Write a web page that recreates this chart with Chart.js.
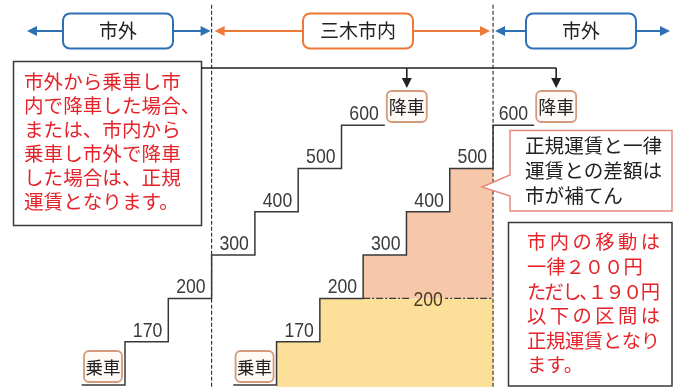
<!DOCTYPE html>
<html>
<head>
<meta charset="utf-8">
<script src="https://cdn.jsdelivr.net/npm/chart.js@4.4.0/dist/chart.umd.min.js"></script>
<style>
  html, body { margin: 0; padding: 0; background: #fff; }
  #wrap { width: 673px; height: 387px; }
</style>
</head>
<body>
<div id="wrap"><canvas id="fareChart" width="673" height="387"></canvas></div>
<script>
// fare on each step (level 0 = 乗車)
const fareLabels = [170, 200, 300, 400, 500, 600];
const stepLevels = [0, 1, 2, 3, 4, 5, 6, 6];
// route position (in stops) where every step starts, last one = end of the 600 step
const outsideStops = [-1, 0, 1, 2, 3, 4, 5, 6];
const insideStops = [2.5, 3.5, 4.5, 5.5, 6.5, 7.5, 8.5, 9.45];
const cityBorders = [2, 8.5];
const flatFareLevel = 2;
const flatFareLabel = '200';
const regionLabels = ['市外', '三木市内', '市外'];
const boardLabel = '乗車';
const alightLabel = '降車';
const noteLeft = ['市外から乗車し市', '内で降車した場合、', 'または、市内から', '乗車し市外で降車', 'した場合は、正規', '運賃となります。'];
const noteSubsidy = ['正規運賃と一律', '運賃との差額は', '市が補てん'];
const noteFlat = ['市内の移動は', '一律２００円', 'ただし､１９０円', '以下の区間は', '正規運賃となり', 'ます。'];

const jpFont = '"Noto Sans CJK JP", "Noto Sans CJK SC", sans-serif';
const numFont = '"Liberation Sans", Arial, sans-serif';
const blue = '#2f6fb5', orange = '#ec7a36', red = '#e5232b';
const yellow = '#fce09a', salmon = '#f6c7a8';
const stairColor = '#383838';

function toPoints(stops) {
  return stops.map((x, i) => ({ x: x, y: stepLevels[i] }));
}
const outside = toPoints(outsideStops);
const inside = toPoints(insideStops);
// flat 200 part under the in-city staircase, and the part above it paid by the city
const flatPts = inside.slice(1, 7).map(p => ({ x: p.x, y: Math.min(p.y, flatFareLevel) }));
const subsidyPts = inside.filter(p => p.y > flatFareLevel && p.x <= cityBorders[1]);
const refPts = [{ x: subsidyPts[0].x, y: flatFareLevel }, { x: cityBorders[1], y: flatFareLevel }];

function roundBox(ctx, x, y, w, h, r, stroke, fill, lw) {
  ctx.beginPath();
  ctx.roundRect(x, y, w, h, r);
  ctx.fillStyle = fill;
  ctx.fill();
  ctx.lineWidth = lw;
  ctx.strokeStyle = stroke;
  ctx.stroke();
}
function arrowHead(ctx, tx, ty, dx, dy, len, half, color) {
  const bx = tx - dx * len, by = ty - dy * len;
  ctx.beginPath();
  ctx.moveTo(tx, ty);
  ctx.lineTo(bx - dy * half, by + dx * half);
  ctx.lineTo(bx + dy * half, by - dx * half);
  ctx.closePath();
  ctx.fillStyle = color;
  ctx.fill();
}
function spreadText(ctx, str, x, y, width) {
  const chars = [...str];
  const ws = chars.map(c => ctx.measureText(c).width);
  const total = ws.reduce((a, b) => a + b, 0);
  const gap = chars.length > 1 ? (width - total) / (chars.length - 1) : 0;
  let cx = x;
  chars.forEach((c, i) => { ctx.fillText(c, cx, y); cx += ws[i] + gap; });
}
function narrowText(ctx, str, xRight, yBase) {
  ctx.save();
  ctx.translate(xRight, yBase);
  ctx.scale(0.84, 1);
  ctx.textAlign = 'right';
  ctx.textBaseline = 'alphabetic';
  ctx.fillText(str, 0, 0);
  ctx.restore();
}
function refLabelBox(chart) {
  const xs = chart.scales.x, ys = chart.scales.y;
  const cx = xs.getPixelForValue((refPts[0].x + refPts[1].x) / 2);
  const cy = ys.getPixelForValue(flatFareLevel);
  return { cx: cx, cy: cy, w: 34, h: 20 };
}

const diagramPlugin = {
  id: 'diagram',
  beforeDatasetDraw(chart, args) {
    if (args.meta.label !== 'flatRef') return;
    // leave a gap in the dash-dot line for its "200" label
    const ctx = chart.ctx, b = refLabelBox(chart);
    ctx.save();
    ctx.beginPath();
    ctx.rect(0, 0, chart.width, chart.height);
    ctx.rect(b.cx - b.w / 2, b.cy - b.h / 2, b.w, b.h);
    ctx.clip('evenodd');
  },
  afterDatasetDraw(chart, args) {
    if (args.meta.label === 'flatRef') chart.ctx.restore();
  },
  afterDatasetsDraw(chart) {
    const ctx = chart.ctx, xs = chart.scales.x, ys = chart.scales.y;
    ctx.save();

    // fare numbers over each step
    ctx.fillStyle = '#3a3a3a';
    ctx.font = '21px ' + numFont;
    [outsideStops, insideStops].forEach(stops => {
      fareLabels.forEach((f, i) => {
        narrowText(ctx, String(f), xs.getPixelForValue(stops[i + 2]) - 6, ys.getPixelForValue(stepLevels[i + 1]) - 5);
      });
    });
    const rb = refLabelBox(chart);
    ctx.save();
    ctx.translate(rb.cx, rb.cy + 8);
    ctx.scale(0.84, 1);
    ctx.textAlign = 'center';
    ctx.fillStyle = '#4a3a20';
    ctx.fillText(flatFareLabel, 0, 0);
    ctx.restore();

    // 乗車 / 降車 tags
    const tagCenters = [];
    ctx.textAlign = 'center';
    ctx.textBaseline = 'middle';
    [outsideStops, insideStops].forEach(stops => {
      const rx = xs.getPixelForValue(stops[1]) - 3;
      roundBox(ctx, rx - 38, 351, 38, 31, 5, '#d39a7c', '#fffaf6', 1.8);
      ctx.fillStyle = '#222';
      ctx.font = '17.5px ' + jpFont;
      ctx.fillText(boardLabel, rx - 19, 367);
      const lx = xs.getPixelForValue(stops[stops.length - 1]) + 2;
      roundBox(ctx, lx, 91, 40, 31, 5, '#d39a7c', '#fffaf6', 1.8);
      ctx.fillStyle = '#222';
      ctx.font = '18px ' + jpFont;
      ctx.fillText(alightLabel, lx + 20, 107);
      tagCenters.push(lx + 20);
    });

    // region headers with arrows
    const b1 = xs.getPixelForValue(cityBorders[0]), b2 = xs.getPixelForValue(cityBorders[1]);
    const regions = [
      { text: regionLabels[0], from: 27, to: b1 - 1, color: blue, cx: 118 },
      { text: regionLabels[1], from: b1 + 3, to: b2 - 3, color: orange, cx: 358 },
      { text: regionLabels[2], from: b2 + 2, to: 670, color: blue, cx: 581 }
    ];
    regions.forEach(r => {
      const ay = 31, bw = 110;
      ctx.strokeStyle = r.color;
      ctx.lineWidth = 2;
      ctx.beginPath();
      ctx.moveTo(r.from + 6, ay); ctx.lineTo(r.cx - bw / 2, ay);
      ctx.moveTo(r.cx + bw / 2, ay); ctx.lineTo(r.to - 6, ay);
      ctx.stroke();
      arrowHead(ctx, r.from, ay, -1, 0, 10, 5, r.color);
      arrowHead(ctx, r.to, ay, 1, 0, 10, 5, r.color);
      roundBox(ctx, r.cx - bw / 2, 13.5, bw, 35, 7, r.color, '#fff', 2);
      ctx.fillStyle = '#222';
      ctx.font = '19px ' + jpFont;
      ctx.fillText(r.text, r.cx, 31);
    });

    // left note
    ctx.beginPath();
    ctx.rect(13.5, 61.5, 188, 164);
    ctx.fillStyle = '#fff';
    ctx.fill();
    ctx.strokeStyle = '#3a3a3a';
    ctx.lineWidth = 1.5;
    ctx.stroke();
    ctx.textAlign = 'left';
    ctx.fillStyle = red;
    ctx.font = '19.6px ' + jpFont;
    noteLeft.forEach((t, i) => ctx.fillText(t, 24, 82 + i * 24));

    // connector to the 降車 tags
    ctx.strokeStyle = '#222';
    ctx.lineWidth = 1.6;
    ctx.beginPath();
    ctx.moveTo(201, 68);
    ctx.lineTo(tagCenters[1], 68);
    tagCenters.forEach(x => { ctx.moveTo(x, 68); ctx.lineTo(x, 80); });
    ctx.stroke();
    tagCenters.forEach(x => arrowHead(ctx, x, 88, 0, 1, 10, 5, '#222'));

    // subsidy callout
    ctx.beginPath();
    ctx.moveTo(510, 130.5);
    ctx.lineTo(672, 130.5);
    ctx.lineTo(672, 211);
    ctx.lineTo(510, 211);
    ctx.lineTo(510, 196);
    ctx.lineTo(482, 187);
    ctx.lineTo(510, 175);
    ctx.closePath();
    ctx.fillStyle = '#fff';
    ctx.fill();
    ctx.strokeStyle = '#e8897c';
    ctx.lineWidth = 1.5;
    ctx.stroke();
    ctx.fillStyle = '#222';
    ctx.font = '19.6px ' + jpFont;
    noteSubsidy.forEach((t, i) => ctx.fillText(t, 525, 146 + i * 25));

    // flat fare note
    ctx.beginPath();
    ctx.rect(508.5, 222.5, 163.5, 163.5);
    ctx.fillStyle = '#fff';
    ctx.fill();
    ctx.strokeStyle = '#3a3a3a';
    ctx.lineWidth = 1.5;
    ctx.stroke();
    ctx.fillStyle = red;
    ctx.font = '19.3px ' + jpFont;
    const justify = [true, false, true, true, true, false];
    noteFlat.forEach((t, i) => {
      const y = 242 + i * 24.6;
      if (justify[i]) spreadText(ctx, t, 527, y, 133);
      else ctx.fillText(t, 527, y);
    });

    ctx.restore();
  }
};

function drawChart() {
  const stairStyle = { stepped: true, borderColor: stairColor, borderWidth: 1.5, pointRadius: 0, fill: false, order: 1 };
  const borderStyle = { borderColor: '#2a2a2a', borderWidth: 1.1, borderDash: [4, 2], pointRadius: 0, fill: false, order: 3 };
  new Chart(document.getElementById('fareChart'), {
    type: 'line',
    data: {
      datasets: [
        Object.assign({ label: 'outside', data: outside }, stairStyle),
        Object.assign({ label: 'inside', data: inside }, stairStyle),
        { label: 'flatRef', data: refPts, borderColor: '#3a3a3a', borderWidth: 1.3, borderDash: [7, 2, 2, 2], pointRadius: 0, fill: false, order: 2 },
        Object.assign({ label: 'border1', data: [{ x: cityBorders[0], y: 8.78 }, { x: cityBorders[0], y: -1 }] }, borderStyle),
        Object.assign({ label: 'border2', data: [{ x: cityBorders[1], y: 8.78 }, { x: cityBorders[1], y: -1 }] }, borderStyle),
        { label: 'subsidy', data: subsidyPts, stepped: true, borderWidth: 0, borderColor: 'rgba(0,0,0,0)', backgroundColor: salmon, pointRadius: 0, fill: { value: flatFareLevel }, order: 4 },
        { label: 'flat', data: flatPts, stepped: true, borderWidth: 0, borderColor: 'rgba(0,0,0,0)', backgroundColor: yellow, pointRadius: 0, fill: 'start', order: 5 }
      ]
    },
    options: {
      responsive: false,
      animation: false,
      events: [],
      layout: { padding: 0 },
      scales: {
        x: { type: 'linear', min: -2.887, max: 12.656, display: false },
        y: { type: 'linear', min: -0.046, max: 8.891, display: false }
      },
      plugins: { legend: { display: false }, tooltip: { enabled: false } }
    },
    plugins: [diagramPlugin]
  });
}

Promise.all([
  document.fonts.load('20px "Noto Sans CJK JP"'),
  document.fonts.load('20px "Liberation Sans"')
]).catch(() => {}).then(drawChart);
</script>
</body>
</html>
